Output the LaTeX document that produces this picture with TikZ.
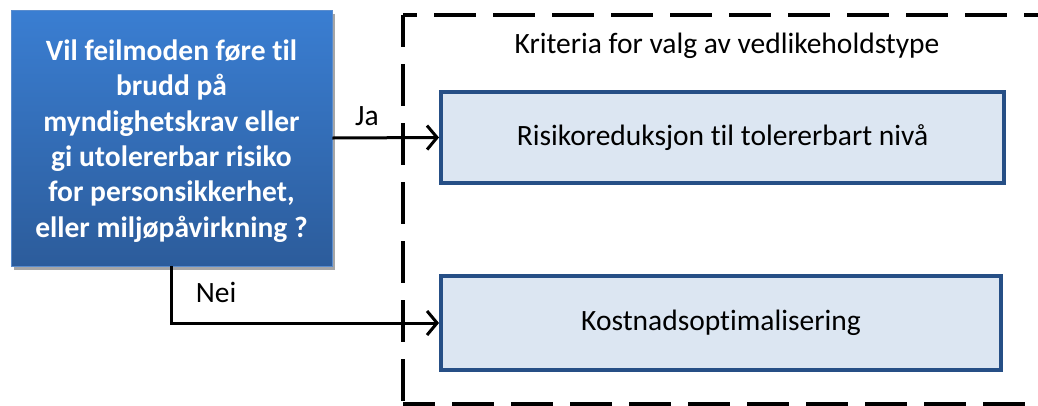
\documentclass[tikz,border=0pt]{standalone}
\usepackage{fontspec}
\setmainfont[Ligatures=NoCommon]{Carlito}
\usetikzlibrary{arrows.meta,shadows}
\definecolor{boxfill}{RGB}{220,230,242}
\definecolor{boxline}{RGB}{38,79,134}
\definecolor{qtop}{RGB}{58,126,210}
\definecolor{qbot}{RGB}{44,92,155}
\definecolor{qline}{RGB}{90,140,205}
\tikzset{
  qbox/.style={draw=qline, line width=0.8pt, top color=qtop, bottom color=qbot,
    drop shadow={shadow xshift=3pt, shadow yshift=-4pt, opacity=0.35, fill=black}},
  qtext/.style={text=white, align=center, inner sep=0pt,
    font=\bfseries\fontsize{29.5}{35.3}\selectfont},
  critbox/.style={draw=boxline, line width=4pt, fill=boxfill,
    font=\fontsize{29.5}{35}\selectfont},
  lbl/.style={font=\fontsize{29.5}{35}\selectfont, inner sep=0pt, anchor=base},
  conn/.style={line width=3pt, -{Straight Barb[length=10pt,width=24pt]}},
  frame/.style={line width=4pt, dash pattern=on 42pt off 17pt}
}
\begin{document}
\begin{tikzpicture}[x=1pt,y=-1pt]
\useasboundingbox (0,0) rectangle (1038,405);
\clip (0,0) rectangle (1038,405);
% dashed frame
\coordinate (f1) at (403,15);
\coordinate (f2) at (1070,15);
\coordinate (f3) at (403,404);
\coordinate (f4) at (1070,404);
\draw[frame, dash phase=28pt] (f1) -- (f2);
\draw[frame, dash phase=10pt] (f1) -- (f3);
\draw[frame, dash phase=10pt] (f3) -- (f4);
% nodes
\node[qbox, minimum width=321pt, minimum height=256pt] (q) at (171.5,138) {};
\node[qtext] (qt) at ([yshift=-3pt]q.center)
  {Vil feilmoden føre til\\brudd på\\myndighetskrav eller\\gi utolererbar risiko\\for personsikkerhet,\\eller miljøpåvirkning ?};
\node[critbox, minimum width=563pt, minimum height=91pt] (r) at (722.5,137.5)
  {Risikoreduksjon til tolererbart nivå};
\node[critbox, minimum width=560pt, minimum height=94pt] (k) at (721,323)
  {Kostnadsoptimalisering};
\node[lbl] (krit) at (727,53) {Kriteria for valg av vedlikeholdstype};
\node[lbl] (ja) at (367,125) {Ja};
\node[lbl] (nei) at (216,302) {Nei};
% connectors
\draw[conn] (q.east) -- (r.west);
\draw[conn] (q.south) |- (k.west);
\end{tikzpicture}
\end{document}
